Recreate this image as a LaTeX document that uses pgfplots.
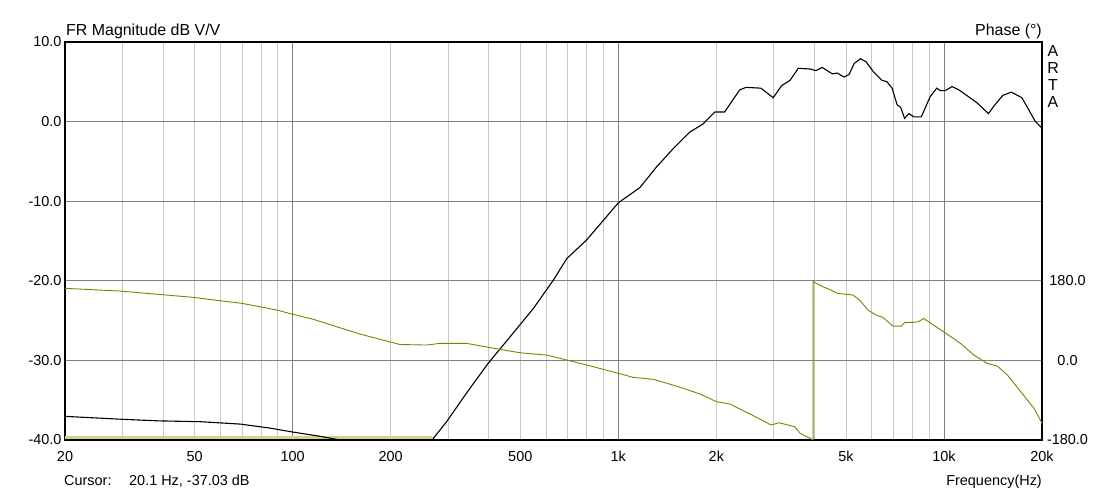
\documentclass[border=0pt]{standalone}
\usepackage{fontspec}
\setmainfont{Liberation Sans}
\usepackage{pgfplots}
\pgfplotsset{compat=1.18}
\definecolor{phasecol}{RGB}{128,128,0}
\definecolor{bandcol}{RGB}{212,212,125}
\definecolor{gridmaj}{RGB}{128,128,128}
\definecolor{gridmin}{RGB}{200,200,200}
\newcommand{\lbl}{\fontsize{14.5}{17}\selectfont}
\newcommand{\ttl}{\fontsize{16}{19}\selectfont}
\begin{document}
\begin{tikzpicture}
\path[use as bounding box] (-65bp,-52bp) rectangle (1041bp,440bp);
\begin{axis}[
  scale only axis, width=977bp, height=398bp,
  xmode=log, xmin=20, xmax=20000, ymin=-40, ymax=10,
  axis line style={line width=1.2bp},
  major tick length=0pt, minor tick length=0pt,
  xtick={100,1000,10000}, xticklabels={,,},
  minor xtick={30,40,50,60,70,80,90,200,300,400,500,600,700,800,900,
    2000,3000,4000,5000,6000,7000,8000,9000},
  extra x ticks={20,50,100,200,500,1000,2000,5000,10000,20000},
  extra x tick labels={20,50,100,200,500,1k,2k,5k,10k,20k},
  extra x tick style={grid=none, xticklabel style={yshift=-8bp}},
  ytick={-40,-30,-20,-10,0,10},
  yticklabels={-40.0,-30.0,-20.0,-10.0,0.0,10.0},
  xmajorgrids, xminorgrids, ymajorgrids,
  major grid style={gridmaj, line width=0.8bp},
  minor grid style={gridmin, line width=0.8bp},
  tick label style={font=\lbl},
]
% lower band
\addplot[bandcol, line width=3bp] coordinates {(20,-39.72) (268,-39.72)};
% FR magnitude
\addplot[black, line width=1.1bp] table {
f     db
20    -37.03
30    -37.4
39    -37.6
52    -37.7
69    -38.0
85    -38.5
100   -39.0
120   -39.5
140   -40.0
170   -40.8
220   -41.2
255   -40.6
268   -40.0
297   -37.7
342   -34.1
398   -30.4
466   -27.0
548   -23.5
632   -19.9
695   -17.2
798   -14.9
900   -12.4
1000  -10.2
1164  -8.3
1310  -5.7
1474  -3.4
1660  -1.3
1820  -0.3
1978  1.2
2120  1.2
2360  4.0
2470  4.3
2740  4.2
2990  3.0
3170  4.5
3370  5.2
3570  6.7
3890  6.6
4040  6.4
4230  6.8
4540  6.0
4700  6.1
4930  5.6
5110  5.9
5300  7.3
5540  7.9
5770  7.5
6060  6.3
6440  5.2
6680  5.0
6930  4.2
7180  2.1
7360  1.8
7570  0.4
7800  1.0
8080  0.6
8520  0.6
9060  3.1
9500  4.2
9730  3.9
10100 3.9
10580 4.4
11100 4.0
11730 3.3
12600 2.4
13700 1.0
14200 1.9
15160 3.3
16100 3.7
17340 3.0
18200 1.5
19080 0.0
20000 -0.8
};
\end{axis}
\begin{axis}[
  scale only axis, width=977bp, height=398bp,
  xmode=log, xmin=20, xmax=20000, ymin=-180, ymax=720,
  axis x line=none, axis y line*=right,
  axis line style={line width=1.2bp},
  major tick length=0pt,
  ytick={-180,0,180}, yticklabels={-180.0,0.0,180.0},
  yticklabel style={font=\lbl, text width=44bp, align=center, anchor=west},
]
\addplot[phasecol, line width=0.9bp] table {
f     deg
20    163
25.6  159
29.5  156.8
39.2  149
49.6  142.5
59.8  135
69.9  129
79.4  121.3
89.4  113.8
99.5  104.8
115.8 92.8
136.7 76
161   59.6
185.6 47.6
213.5 36
258   34.7
283   38.5
342   38.5
433   25
499   17.3
602   12.1
710   -0.8
838   -14.3
1000  -29.3
1110  -38.3
1283  -42.8
1550  -60.9
1782  -76
2004  -93.4
2200  -98.6
2574  -123.5
2944  -146
3116  -141
3480  -150
3620  -165
3966  -180
3966  178
4248  166.5
4454  160.6
4720  151.5
5256  147.7
5510  136.4
5840  113.8
6194  102.5
6492  97.3
6970  77.6
7396  77.6
7577  86
8062  86
8350  87.4
8652  95
8960  87.4
9970  64.8
11236 38.5
12350 12.1
13572 -6.7
14580 -12.8
15660 -33
17210 -70.8
18900 -108.4
20000 -142
};
\end{axis}
\node[font=\ttl, anchor=base west, inner sep=0] at (1bp,404bp) {FR Magnitude dB V/V};
\node[font=\ttl, anchor=base east, inner sep=0] at (977bp,404bp) {Phase (°)};
\node[font=\ttl, anchor=base, inner sep=0] at (988bp,383bp) {A};
\node[font=\ttl, anchor=base, inner sep=0] at (988bp,366bp) {R};
\node[font=\ttl, anchor=base, inner sep=0] at (988bp,349bp) {T};
\node[font=\ttl, anchor=base, inner sep=0] at (988bp,332bp) {A};
\node[font=\lbl, anchor=base west, inner sep=0] at (-1bp,-45bp) {Cursor:};
\node[font=\lbl, anchor=base west, inner sep=0] at (64bp,-45bp) {20.1 Hz, -37.03 dB};
\node[font=\lbl, anchor=base east, inner sep=0] at (977bp,-45bp) {Frequency(Hz)};
\end{tikzpicture}
\end{document}
